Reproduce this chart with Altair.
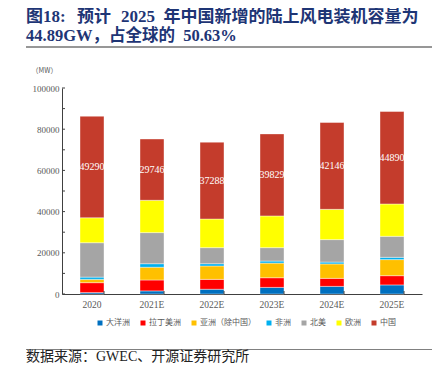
import altair as alt
import pandas as pd

years = ["2020", "2021E", "2022E", "2023E", "2024E", "2025E"]
regions = ["大洋洲", "拉丁美洲", "亚洲（除中国）", "非洲", "北美", "欧洲", "中国"]
colors = ["#0070C0", "#FF0000", "#FFC000", "#00B0F0", "#A5A5A5", "#FFFF00", "#C43C2C"]

pacific = [700, 1500, 2300, 3200, 3700, 4400]
latam = [4800, 5300, 4800, 4700, 3900, 4500]
asia = [1600, 6200, 6500, 7100, 7000, 7800]
africa = [1100, 1700, 1100, 1000, 900, 1100]
north_america = [16700, 15100, 7800, 6500, 10900, 10200]
europe = [12100, 15700, 13900, 15400, 14700, 15700]
china = [49290, 29746, 37288, 39829, 42146, 44890]

y_ticks = [0, 10000, 20000, 30000, 40000, 50000, 60000, 70000, 80000, 90000, 100000]

title_line1 = "图18:\u2002\u2006预计\u2002\u200a2025\u2002年中国新增的陆上风电装机容量为"
title_line2 = "44.89GW，占全球的\u200250.63%"
source_text = "数据来源：GWEC、开源证券研究所"

series = [pacific, latam, asia, africa, north_america, europe, china]
rows = []
for i, (r, vals) in enumerate(zip(regions, series)):
    for yr, v in zip(years, vals):
        rows.append({"year": yr, "region": r, "value": v, "order": i})
df = pd.DataFrame(rows)

W, H = 360, 206
serif = "Liberation Serif, Noto Sans CJK SC"
cjk = "Noto Sans CJK SC"
gray = "#595959"
title_color = "#1E3575"

x_scale = alt.Scale(paddingInner=0.6, paddingOuter=0.3)
y_scale = alt.Scale(domain=[0, 100000])

x_enc = alt.X("year:N", sort=years, scale=x_scale,
              axis=alt.Axis(title=None, labelAngle=0, labelFont=serif, labelFontSize=9.5,
                            labelColor=gray, ticks=False, domainColor="#404040",
                            labelPadding=5, grid=False))

base = alt.Chart(df)

bars = base.mark_bar(stroke="white", strokeWidth=0.4).encode(
    x=x_enc,
    y=alt.Y("value:Q", stack="zero", scale=y_scale,
            axis=alt.Axis(values=y_ticks, format="d", title="（MW）", titleAngle=0,
                          titleX=-18, titleY=-18, titleFont=cjk, titleFontSize=7,
                          titleFontWeight="normal", titleColor=gray, titleAlign="center",
                          titleBaseline="middle", labelFont=serif, labelFontSize=9,
                          labelColor=gray, ticks=False, labelPadding=3,
                          domainColor="#404040", grid=False)),
    color=alt.Color("region:N", scale=alt.Scale(domain=regions, range=colors),
                    legend=alt.Legend(title=None, orient="none", legendX=34, legendY=231,
                                      direction="horizontal", symbolType="square",
                                      symbolSize=25, symbolStrokeWidth=0,
                                      labelFont=cjk, labelFontSize=8, labelColor=gray,
                                      columnPadding=9, labelOffset=2)),
    order=alt.Order("order:Q", sort="ascending"),
)

labels = base.transform_stack(
    stack="value", groupby=["year"], sort=[alt.SortField("order", "ascending")], as_=["v0", "v1"]
).transform_filter(alt.datum.region == "中国").transform_calculate(
    mid="(datum.v0 + datum.v1) / 2"
).mark_text(color="white", font=serif, fontSize=10).encode(
    x=alt.X("year:N", sort=years),
    y=alt.Y("mid:Q"),
    text=alt.Text("value:Q", format="d"),
)

ytick_marks = alt.Chart(alt.Data(values=[{"value": v} for v in y_ticks])).mark_rule(
    color="#404040", strokeWidth=1
).encode(y=alt.Y("value:Q"), x=alt.value(0), x2=alt.value(3))

xtick_marks = alt.Chart(alt.Data(values=[{"year": v} for v in years])).mark_rule(
    color="#404040", strokeWidth=1
).encode(x=alt.X("year:N", sort=years, bandPosition=1),
         y=alt.value(H), y2=alt.value(H - 3))

deco = alt.Chart(alt.Data(values=[{"k": 1}]))

bottom_rule = deco.mark_rect(color="#808080").encode(
    x=alt.value(-36), x2=alt.value(370), y=alt.value(261), y2=alt.value(262))
title1 = deco.mark_text(font=serif, fontSize=17, fontWeight="bold", color=title_color,
                        align="left", baseline="middle").encode(
    x=alt.value(-36), y=alt.value(-71.5), text=alt.value(title_line1))
title2 = deco.mark_text(font=serif, fontSize=16.5, fontWeight="bold", color=title_color,
                        align="left", baseline="middle").encode(
    x=alt.value(-36), y=alt.value(-52.5), text=alt.value(title_line2))
source = deco.mark_text(font=serif, fontSize=14, color="#222222", align="left",
                        baseline="middle").encode(
    x=alt.value(-36), y=alt.value(269), text=alt.value(source_text))
top_rule = deco.mark_rule(color="#303030", strokeWidth=1.2).encode(
    x=alt.value(-36), x2=alt.value(370), y=alt.value(-41))

chart = alt.layer(bars, labels, ytick_marks, xtick_marks, bottom_rule,
                  title1, title2, source, top_rule).properties(
    width=W, height=H,
    padding={"left": 54, "top": 80, "right": 10, "bottom": 80},
    autosize=alt.AutoSizeParams(type="none"),
).configure_view(strokeWidth=0)

chart.save("out.html", embed_options={"renderer": "svg", "actions": False})
